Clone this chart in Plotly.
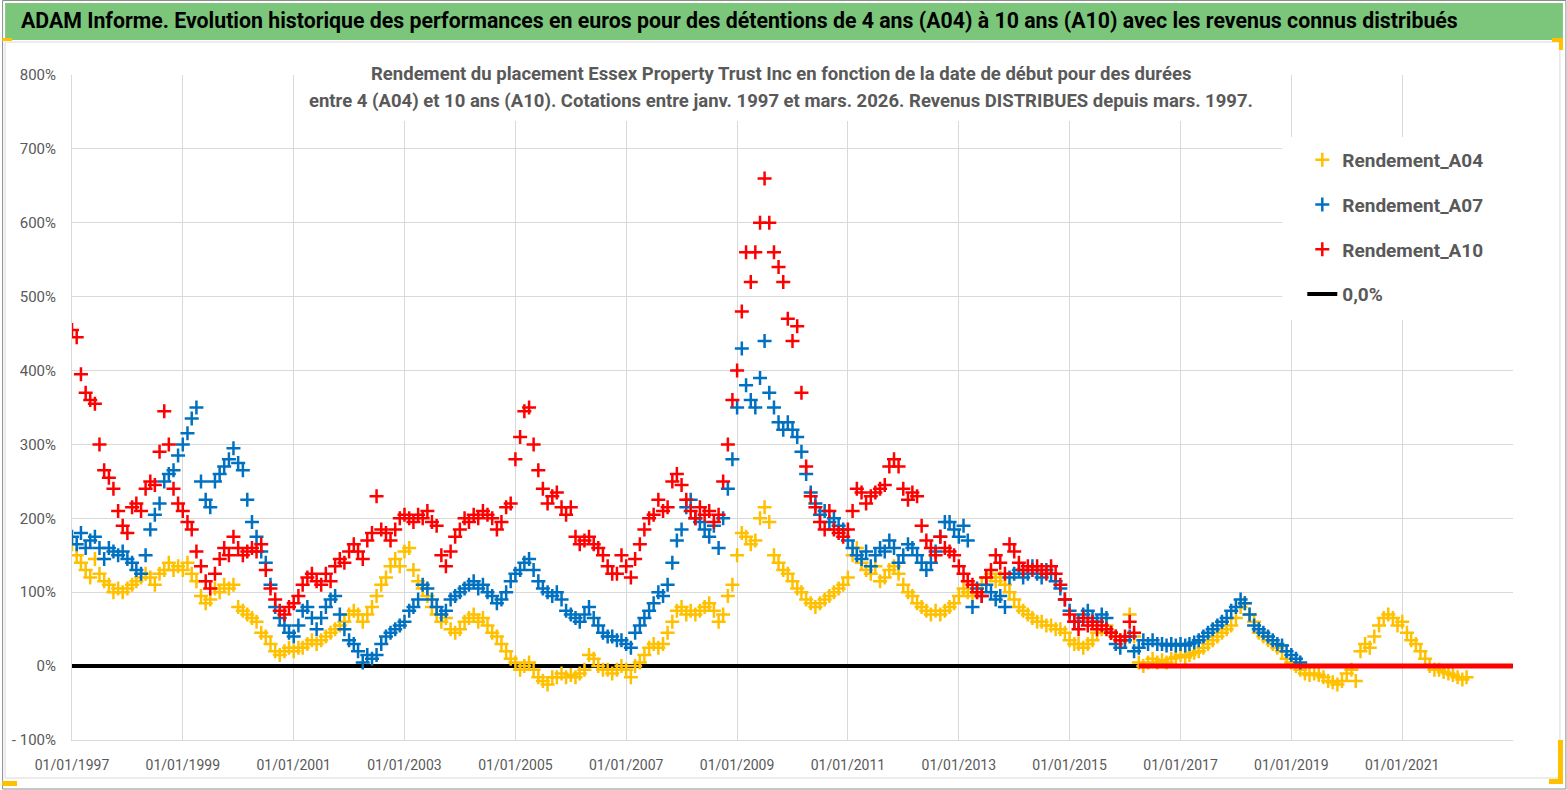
import pandas as pd
import plotly.graph_objects as go

# ---------------- data (values in %) ----------------
START = "1997-01-01"

A04 = [
    165, 150, 140, 130, 120, 145, 125, 115, 110, 100, 105, 100,   # 1997
    105, 110, 115, 120, 125, 120, 110, 125, 130, 140, 130, 135,   # 1998
    130, 140, 125, 115, 95, 85, 90, 105, 100, 110, 105, 110,      # 1999
    80, 75, 70, 65, 60, 45, 40, 30, 20, 15, 20, 25,               # 2000
    20, 25, 25, 30, 35, 30, 35, 40, 45, 50, 55, 60,               # 2001
    70, 75, 70, 60, 70, 80, 95, 110, 120, 135, 145, 135,          # 2002
    155, 160, 130, 115, 105, 95, 80, 70, 60, 65, 50, 45,          # 2003
    50, 60, 65, 70, 60, 65, 55, 45, 40, 30, 20, 10,               # 2004
    5, -5, 0, 5, -5, -15, -20, -25, -15, -15, -10, -15,           # 2005
    -12, -15, -10, -5, 15, 10, 0, -5, -5, -10, -5, 0,             # 2006
    -5, -15, 0, 5, 15, 25, 30, 25, 30, 45, 60, 75,                # 2007
    80, 70, 75, 70, 75, 80, 85, 75, 60, 70, 95, 110,              # 2008
    150, 180, 175, 165, 170, 200, 215, 195, 150, 140, 130, 125,   # 2009
    115, 105, 100, 90, 85, 80, 85, 90, 95, 100, 105, 110,         # 2010
    120, 150, 160, 140, 130, 125, 135, 115, 120, 130, 135, 125,   # 2011
    110, 100, 95, 85, 80, 75, 70, 75, 70, 75, 80, 85,             # 2012
    95, 105, 100, 95, 100, 110, 120, 125, 115, 120, 110, 100,     # 2013
    90, 80, 75, 70, 65, 60, 60, 55, 55, 50, 50, 45,               # 2014
    35, 30, 30, 25, 30, 35, 45, 50, 55, 45, 40, 35,               # 2015
    35, 70, 40, 5, 0, 5, 10, 5, 8, 5, 10, 12,                     # 2016
    15, 12, 15, 18, 20, 25, 30, 35, 40, 45, 50, 55,               # 2017
    65, 80, 85, 70, 60, 45, 40, 35, 30, 25, 20, 10,               # 2018
    5, 0, -5, -10, -12, -10, -12, -15, -20, -22, -25, -20,        # 2019
    -10, -5, -20, 20, 30, 25, 40, 55, 65, 70, 65, 55,             # 2020
    60, 45, 35, 30, 20, 10, 0, -5, -5, -8, -10, -12,              # 2021
    -15, -18, -15,                                                # 2022
]

A07 = [
    175, 165, 180, 160, 170, 175, 160, 145, 160, 155, 150, 155,   # 1997
    145, 140, 130, 125, 150, 185, 205, 220, 250, 260, 265, 285,   # 1998
    300, 315, 335, 350, 250, 225, 215, 250, 260, 270, 280, 295,   # 1999
    275, 265, 225, 195, 175, 155, 140, 110, 80, 65, 55, 45,       # 2000
    40, 55, 75, 80, 65, 50, 65, 80, 90, 95, 70, 50,               # 2001
    35, 30, 20, 5, 15, 10, 15, 30, 40, 45, 50, 55,                # 2002
    60, 75, 80, 90, 110, 105, 90, 80, 70, 75, 90, 95,             # 2003
    100, 105, 110, 115, 105, 110, 100, 95, 85, 90, 100, 115,      # 2004
    125, 130, 140, 145, 130, 115, 105, 100, 95, 100, 90, 75,      # 2005
    70, 65, 60, 70, 80, 65, 55, 45, 40, 40, 35, 35,               # 2006
    30, 25, 45, 55, 65, 75, 85, 100, 95, 110, 140, 170,           # 2007
    185, 215, 225, 200, 195, 185, 175, 190, 160, 200, 240, 280,   # 2008
    350, 430, 380, 360, 350, 390, 440, 370, 350, 330, 320, 330,   # 2009
    320, 310, 290, 260, 235, 220, 205, 210, 195, 200, 190, 185,   # 2010
    170, 160, 150, 145, 155, 135, 150, 160, 155, 170, 160, 140,   # 2011
    150, 165, 160, 150, 140, 130, 140, 155, 175, 195, 195, 185,   # 2012
    175, 190, 170, 80, 105, 95, 110, 100, 90, 95, 80, 120,        # 2013
    125, 130, 120, 125, 135, 125, 120, 130, 125, 115, 105, 90,    # 2014
    75, 60, 60, 70, 75, 65, 60, 70, 65, 45, 30, 25,               # 2015
    35, 40, 20, 25, 35, 30, 35, 30, 30, 28, 30, 28,               # 2016
    30, 28, 30, 32, 35, 40, 45, 50, 55, 60, 65, 75,               # 2017
    80, 90, 85, 70, 55, 50, 45, 40, 35, 30, 28, 20,               # 2018
    15, 10, 5,                                                    # 2019
]

A10 = [
    455, 445, 395, 370, 360, 355, 300, 265, 255, 240, 210, 190,   # 1997
    180, 215, 220, 210, 240, 250, 245, 290, 345, 300, 240, 220,   # 1998
    210, 195, 185, 155, 135, 115, 105, 125, 145, 160, 150, 175,   # 1999
    160, 150, 155, 160, 155, 165, 130, 105, 90, 75, 70, 80,       # 2000
    85, 95, 110, 120, 125, 115, 110, 125, 115, 135, 145, 140,     # 2001
    155, 165, 155, 145, 170, 180, 230, 185, 180, 170, 185, 200,   # 2002
    205, 200, 195, 205, 200, 210, 195, 190, 150, 135, 155, 175,   # 2003
    185, 200, 195, 205, 200, 210, 205, 200, 185, 195, 215, 220,   # 2004
    280, 310, 345, 350, 300, 265, 240, 220, 230, 235, 215, 205,   # 2005
    215, 175, 165, 170, 175, 165, 160, 150, 135, 125, 125, 150,   # 2006
    135, 120, 145, 165, 185, 200, 205, 225, 210, 215, 250, 260,   # 2007
    245, 225, 210, 200, 215, 205, 210, 195, 205, 250, 300, 360,   # 2008
    400, 480, 560, 520, 560, 600, 660, 600, 560, 540, 520, 470,   # 2009
    440, 460, 370, 270, 230, 215, 195, 185, 210, 185, 180, 175,   # 2010
    185, 210, 240, 235, 220, 230, 235, 240, 245, 270, 280, 270,   # 2011
    240, 225, 235, 230, 190, 170, 160, 150, 175, 160, 155, 150,   # 2012
    135, 125, 115, 110, 100, 95, 120, 130, 150, 140, 125, 165,    # 2013
    155, 140, 130, 135, 130, 135, 130, 125, 135, 125, 110, 90,    # 2014
    70, 60, 50, 65, 55, 60, 50, 55, 50, 45, 40, 35,               # 2015
    40, 60, 45,                                                   # 2016
]

A10_ZERO_DATES = ["2016-04-01", "2022-12-31"]
A10_ZERO_VALUES = [0, 0]
ZERO_DATES = ["1997-01-01", "2022-12-31"]
ZERO_VALUES = [0, 0]

TICK_DATES = ["1997-01-01", "1999-01-01", "2001-01-01", "2003-01-01", "2005-01-01",
              "2007-01-01", "2009-01-01", "2011-01-01", "2013-01-01", "2015-01-01",
              "2017-01-01", "2019-01-01", "2021-01-01"]
TICK_LABELS = ["01/01/1997", "01/01/1999", "01/01/2001", "01/01/2003", "01/01/2005",
               "01/01/2007", "01/01/2009", "01/01/2011", "01/01/2013", "01/01/2015",
               "01/01/2017", "01/01/2019", "01/01/2021"]
Y_TICKS = [-100, 0, 100, 200, 300, 400, 500, 600, 700, 800]
Y_LABELS = ["- 100%", "0%", "100%", "200%", "300%", "400%", "500%", "600%", "700%", "800%"]

TITLE = ("ADAM Informe. Evolution historique des performances en euros pour des détentions "
         "de 4 ans (A04) à 10 ans (A10) avec les revenus connus distribués")
SUB1 = "Rendement du placement Essex Property Trust Inc en fonction de la date de début pour des durées"
SUB2 = ("entre 4 (A04) et 10 ans (A10). Cotations entre janv. 1997 et mars. 2026. "
        "Revenus DISTRIBUES depuis mars. 1997.")

# ---------------- layout helpers ----------------
W, H = 1567, 790
L, R, T, B = 70, 1513, 75, 740
FONT = "Roboto, Liberation Sans, sans-serif"
GRAY = "#595959"


def px(x):
    return (x - L) / (R - L)


def py(y):
    return (B - y) / (B - T)


def dates(n):
    return pd.date_range(START, periods=n, freq="MS")


fig = go.Figure()

fig.add_trace(go.Scatter(x=ZERO_DATES, y=ZERO_VALUES, mode="lines",
                         line=dict(color="black", width=4), name="0,0%",
                         legendgroup="z", legendrank=4))

for name, vals, col, rank in [("Rendement_A04", A04, "#FFC000", 1),
                              ("Rendement_A07", A07, "#0070C0", 2),
                              ("Rendement_A10", A10, "#FF0000", 3)]:
    fig.add_trace(go.Scatter(
        x=dates(len(vals)), y=vals, mode="markers", name=name,
        legendgroup=name, legendrank=rank,
        marker=dict(symbol="cross-thin", size=10, color=col,
                    line=dict(color=col, width=2.5))))

fig.add_trace(go.Scatter(x=A10_ZERO_DATES, y=A10_ZERO_VALUES, mode="lines",
                         line=dict(color="#FF0000", width=5), showlegend=False,
                         hoverinfo="skip"))

shapes = [
    dict(type="rect", xref="paper", yref="paper", x0=px(0.5), x1=px(1566), y0=py(0.5), y1=py(789),
         line=dict(color="#8C8C8C", width=1), fillcolor="rgba(0,0,0,0)", layer="below"),
    dict(type="rect", xref="paper", yref="paper", x0=px(3), x1=px(1560), y0=py(42), y1=py(778),
         line=dict(color="#D9D9D9", width=1), fillcolor="rgba(0,0,0,0)", layer="below"),
    dict(type="rect", xref="paper", yref="paper", x0=px(3), x1=px(1563), y0=py(3), y1=py(40),
         line=dict(width=0), fillcolor="#7CC67C", layer="below"),
    dict(type="rect", xref="paper", yref="paper", x0=px(305), x1=px(1275), y0=py(52), y1=py(121),
         line=dict(width=0), fillcolor="white", layer="above"),
    dict(type="rect", xref="paper", yref="paper", x0=px(1282), x1=px(1545), y0=py(137), y1=py(320),
         line=dict(width=0), fillcolor="white", layer="above"),
    dict(type="rect", xref="paper", yref="paper", x0=px(0), x1=px(10), y0=py(38), y1=py(41),
         line=dict(width=0), fillcolor="#FFC000", layer="above"),
    dict(type="rect", xref="paper", yref="paper", x0=px(1552), x1=px(1563), y0=py(38), y1=py(42),
         line=dict(width=0), fillcolor="#FFC000", layer="above"),
    dict(type="rect", xref="paper", yref="paper", x0=px(1559), x1=px(1563), y0=py(38), y1=py(50),
         line=dict(width=0), fillcolor="#FFC000", layer="above"),
    dict(type="rect", xref="paper", yref="paper", x0=px(1549), x1=px(1563), y0=py(779), y1=py(784),
         line=dict(width=0), fillcolor="#FFC000", layer="above"),
    dict(type="rect", xref="paper", yref="paper", x0=px(1558), x1=px(1563), y0=py(740), y1=py(784),
         line=dict(width=0), fillcolor="#FFC000", layer="above"),
    dict(type="rect", xref="paper", yref="paper", x0=px(0), x1=px(15), y0=py(781), y1=py(786),
         line=dict(width=0), fillcolor="#FFC000", layer="above"),
]

annotations = [
    dict(text=TITLE, xref="paper", yref="paper", x=px(17), y=py(21), xanchor="left",
         yanchor="middle", showarrow=False,
         font=dict(family=FONT, size=21.3, color="black", weight="bold")),
    dict(text=SUB1, xref="paper", yref="paper", x=px(780), y=py(74), xanchor="center",
         yanchor="middle", showarrow=False,
         font=dict(family=FONT, size=18.5, color=GRAY, weight="bold")),
    dict(text=SUB2, xref="paper", yref="paper", x=px(780), y=py(101), xanchor="center",
         yanchor="middle", showarrow=False,
         font=dict(family=FONT, size=18.5, color=GRAY, weight="bold")),
]

fig.update_layout(
    width=W, height=H,
    margin=dict(l=L, r=W - R, t=T, b=H - B, pad=0),
    paper_bgcolor="white", plot_bgcolor="white",
    showlegend=True,
    legend=dict(x=px(1302), y=py(141), xanchor="left", yanchor="top",
                bgcolor="white", font=dict(family=FONT, size=19, color=GRAY, weight="bold"),
                tracegroupgap=17, traceorder="grouped", itemwidth=30),
    shapes=shapes, annotations=annotations,
    font=dict(family=FONT, color=GRAY),
)

fig.update_xaxes(type="date", range=["1997-01-01", "2023-01-01"],
                 tickvals=TICK_DATES, ticktext=TICK_LABELS,
                 tickfont=dict(family=FONT, size=14, color=GRAY),
                 showgrid=True, gridcolor="#D9D9D9", gridwidth=1,
                 showline=True, linecolor="#D9D9D9", linewidth=1,
                 zeroline=False, ticks="", ticklabelstandoff=12)
fig.update_yaxes(range=[-100, 800], tickvals=Y_TICKS, ticktext=Y_LABELS,
                 tickfont=dict(family=FONT, size=15, color=GRAY),
                 showgrid=True, gridcolor="#D9D9D9", gridwidth=1,
                 showline=True, linecolor="#D9D9D9", linewidth=1,
                 zeroline=False, ticks="", ticklabelstandoff=12)

fig.write_html("out.html", config={"displayModeBar": False},
               post_script="document.body.style.margin='0';")
